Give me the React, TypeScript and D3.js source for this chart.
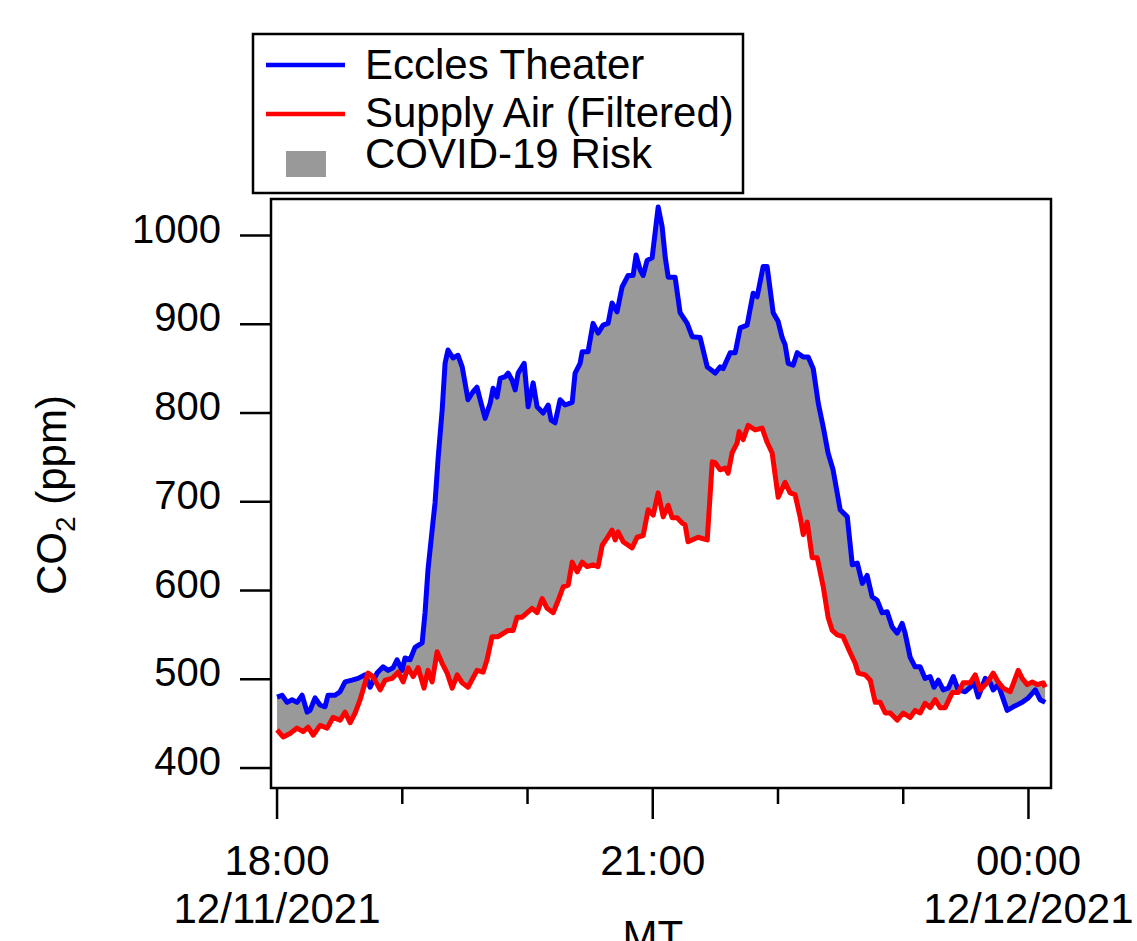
import React, { useEffect, useRef } from 'react'
import * as d3 from 'd3'

// minutes after 18:00 on 12/11/2021, CO2 in ppm
const ecclesMin = [0, 2.4, 4.8, 7.2, 9.6, 12.0, 14.4, 15.8, 18.2, 20.6, 23.0, 24.4, 27.8, 30.2, 32.6, 35.9, 38.8, 42.2, 44.6, 47.9, 50.8, 53.2, 55.6, 57.5, 59.9, 61.3, 63.7, 66.1, 69.5, 70.9, 72.3, 74.3, 75.7, 77.2, 79.1, 80.5, 81.9, 84.3, 86.7, 88.7, 91.5, 93.9, 95.8, 97.3, 99.7, 102.1, 103.5, 105.4, 106.9, 109.3, 110.7, 112.6, 114.1, 115.5, 118.4, 120.3, 122.7, 124.6, 127.5, 129.9, 131.3, 133.2, 135.6, 138.0, 141.4, 142.8, 145.2, 146.2, 149.0, 151.4, 153.8, 156.2, 158.6, 160.5, 162.9, 165.3, 168.2, 170.6, 172.0, 174.0, 175.4, 177.3, 179.7, 182.6, 184.5, 186.0, 187.4, 190.7, 193.1, 196.5, 198.9, 202.7, 206.1, 209.9, 212.3, 213.7, 217.1, 219.5, 221.9, 225.2, 228.1, 230.0, 232.9, 234.8, 237.7, 240.1, 242.0, 243.4, 244.9, 247.3, 249.2, 252.1, 254.5, 256.9, 259.3, 261.7, 264.0, 266.4, 269.8, 273.2, 275.6, 278.0, 280.4, 282.7, 285.1, 287.5, 289.9, 292.3, 294.7, 297.1, 299.5, 300.9, 303.3, 305.7, 308.1, 310.5, 312.9, 314.8, 316.8, 319.2, 321.6, 324.0, 326.3, 329.7, 332.1, 334.0, 335.9, 339.3, 341.7, 343.1, 345.5, 349.8, 352.7, 357.0, 359.9, 363.3, 365.6, 368.0]
const ecclesPpm = [480, 482, 474, 477, 474, 482, 463, 465, 479, 471, 469, 482, 482, 486, 497, 499, 501, 505, 491, 507, 514, 510, 513, 522, 510, 524, 522, 536, 541, 575, 623, 668, 699, 750, 803, 856, 871, 862, 865, 852, 815, 824, 829, 815, 794, 811, 828, 818, 839, 841, 845, 837, 826, 845, 856, 807, 834, 807, 800, 809, 792, 789, 815, 809, 812, 845, 856, 869, 869, 901, 890, 899, 901, 924, 914, 942, 955, 955, 978, 961, 955, 972, 975, 1032, 1010, 975, 953, 953, 913, 901, 886, 885, 852, 845, 852, 850, 868, 868, 896, 899, 935, 931, 965, 965, 913, 903, 885, 877, 856, 854, 868, 863, 863, 850, 811, 784, 755, 736, 691, 683, 629, 631, 608, 617, 593, 589, 575, 576, 559, 552, 563, 552, 525, 514, 514, 501, 503, 491, 499, 488, 490, 503, 488, 486, 491, 496, 480, 501, 496, 488, 494, 465, 469, 474, 479, 488, 477, 474]

const supplyMin = [0, 2.9, 6.2, 9.6, 12.5, 14.9, 17.3, 20.6, 24.0, 26.8, 30.2, 32.6, 35.0, 37.4, 39.8, 42.2, 43.6, 46.0, 49.4, 51.8, 55.1, 58.0, 60.4, 62.8, 65.2, 67.6, 70.4, 72.3, 74.3, 76.7, 79.1, 81.5, 83.9, 86.3, 88.7, 91.5, 95.8, 98.7, 100.6, 103.0, 105.9, 110.7, 113.1, 115.0, 117.4, 122.2, 124.6, 127.0, 129.4, 132.3, 134.7, 137.1, 139.5, 141.4, 143.8, 146.2, 148.6, 151.4, 153.8, 155.8, 158.1, 160.5, 162.0, 163.4, 165.8, 170.1, 172.5, 175.4, 177.8, 180.2, 182.6, 185.0, 187.4, 189.3, 191.7, 194.1, 195.5, 196.9, 201.7, 206.1, 208.5, 209.9, 212.3, 214.7, 216.1, 218.0, 220.4, 221.4, 223.3, 225.7, 229.1, 232.4, 234.8, 237.2, 240.1, 243.4, 245.8, 248.2, 250.6, 252.1, 254.0, 256.4, 258.8, 261.7, 264.0, 266.0, 268.4, 271.2, 274.6, 277.0, 278.4, 281.8, 284.2, 286.6, 289.0, 291.4, 293.8, 297.1, 300.0, 303.3, 305.7, 308.1, 310.5, 312.9, 315.3, 317.7, 320.1, 323.5, 326.3, 328.7, 332.1, 334.5, 336.9, 340.2, 343.1, 345.5, 347.9, 351.3, 355.1, 357.0, 359.4, 361.8, 364.2, 367.1, 368.0]
const supplyPpm = [443, 435, 439, 445, 441, 446, 437, 448, 445, 457, 454, 463, 451, 462, 477, 496, 507, 503, 488, 499, 501, 508, 497, 513, 503, 513, 490, 510, 497, 531, 518, 507, 490, 505, 496, 491, 510, 508, 522, 548, 548, 555, 555, 570, 570, 580, 575, 591, 580, 575, 589, 604, 606, 632, 621, 632, 627, 629, 627, 651, 659, 668, 657, 666, 655, 648, 660, 662, 691, 685, 710, 683, 696, 682, 682, 676, 674, 655, 660, 657, 745, 744, 736, 738, 732, 755, 766, 779, 770, 786, 781, 783, 767, 755, 705, 722, 710, 708, 683, 663, 677, 637, 637, 604, 570, 555, 550, 548, 530, 518, 507, 505, 499, 474, 474, 462, 462, 454, 462, 457, 465, 462, 473, 468, 477, 468, 468, 485, 485, 496, 496, 505, 488, 496, 507, 497, 490, 486, 510, 501, 494, 497, 494, 496, 491]

const yTicks = [400, 500, 600, 700, 800, 900, 1000]
const legendNames = ['Eccles Theater', 'Supply Air (Filtered)', 'COVID-19 Risk']

const t0 = new Date(2021, 11, 11, 18, 0).getTime()
const toDate = (m: number) => new Date(t0 + m * 60000)

export default function App() {
    const ref = useRef<SVGSVGElement | null>(null)
    const width = 1137
    const height = 941
    const font = 'Liberation Sans, Arial, sans-serif'

    function drawChart() {
        const svg = d3.select(ref.current)
        svg.selectAll('*').remove()

        const x = d3.scaleTime()
            .domain([toDate(-2.9), toDate(370.8)])
            .range([271, 1051])
        const y = d3.scaleLinear()
            .domain([377.5, 1040])
            .range([788, 200])

        const blue: [number, number][] = ecclesMin.map((m, i) => [x(toDate(m)), y(ecclesPpm[i])])
        const red: [number, number][] = supplyMin.map((m, i) => [x(toDate(m)), y(supplyPpm[i])])
        const line = d3.line()

        // risk band: eccles forward, supply back
        svg.append('path')
            .attr('d', line(blue.concat(red.slice().reverse())) + 'Z')
            .attr('fill', '#999999')
            .attr('stroke', 'none')

        svg.append('path')
            .attr('d', line(blue))
            .attr('fill', 'none')
            .attr('stroke', '#0000ff')
            .attr('stroke-width', 5)
            .attr('stroke-linejoin', 'round')
        svg.append('path')
            .attr('d', line(red))
            .attr('fill', 'none')
            .attr('stroke', '#ff0000')
            .attr('stroke-width', 5)
            .attr('stroke-linejoin', 'round')

        // frame
        svg.append('rect')
            .attr('x', 271).attr('y', 199)
            .attr('width', 780).attr('height', 589)
            .attr('fill', 'none')
            .attr('stroke', 'black')
            .attr('stroke-width', 2.5)

        // y axis
        const yg = svg.append('g')
        yTicks.forEach(v => {
            yg.append('line')
                .attr('x1', 240).attr('x2', 271)
                .attr('y1', y(v)).attr('y2', y(v))
                .attr('stroke', 'black').attr('stroke-width', 2.5)
            yg.append('text')
                .attr('x', 221).attr('y', y(v) + 7)
                .attr('text-anchor', 'end')
                .attr('font-family', font).attr('font-size', 40)
                .text(v)
        })

        // x axis
        const hours = d3.timeHour.range(toDate(0), toDate(371))
        const xg = svg.append('g')
        hours.forEach(h => {
            const major = h.getHours() % 3 === 0
            xg.append('line')
                .attr('x1', x(h)).attr('x2', x(h))
                .attr('y1', 788).attr('y2', major ? 819 : 804)
                .attr('stroke', 'black').attr('stroke-width', 2.5)
            if (major) {
                xg.append('text')
                    .attr('x', x(h)).attr('y', 875)
                    .attr('text-anchor', 'middle')
                    .attr('font-family', font).attr('font-size', 42)
                    .text(d3.timeFormat('%H:%M')(h))
                if (h.getHours() !== 21) {
                    xg.append('text')
                        .attr('x', x(h)).attr('y', 923)
                        .attr('text-anchor', 'middle')
                        .attr('font-family', font).attr('font-size', 42)
                        .text(d3.timeFormat('%m/%d/%Y')(h))
                }
            }
        })
        svg.append('text')
            .attr('x', x(toDate(180))).attr('y', 950)
            .attr('text-anchor', 'middle')
            .attr('font-family', font).attr('font-size', 42)
            .text('MT')

        // y label
        const yl = svg.append('text')
            .attr('transform', 'translate(66,495) rotate(-90)')
            .attr('text-anchor', 'middle')
            .attr('font-family', font).attr('font-size', 42)
        yl.append('tspan').text('CO')
        yl.append('tspan').attr('font-size', 28).attr('dy', 9).text('2')
        yl.append('tspan').attr('dy', -9).text(' (ppm)')

        // legend
        const lg = svg.append('g')
        lg.append('rect')
            .attr('x', 253).attr('y', 34)
            .attr('width', 490).attr('height', 159)
            .attr('fill', 'white')
            .attr('stroke', 'black').attr('stroke-width', 2.5)
        lg.append('line')
            .attr('x1', 266).attr('x2', 345).attr('y1', 65).attr('y2', 65)
            .attr('stroke', '#0000ff').attr('stroke-width', 4.5)
        lg.append('line')
            .attr('x1', 266).attr('x2', 345).attr('y1', 114).attr('y2', 114)
            .attr('stroke', '#ff0000').attr('stroke-width', 4.5)
        lg.append('rect')
            .attr('x', 286).attr('y', 151).attr('width', 40).attr('height', 26)
            .attr('fill', '#999999')
        const baselines = [79, 127, 168]
        legendNames.forEach((n, i) => {
            lg.append('text')
                .attr('x', 365).attr('y', baselines[i])
                .attr('font-family', font).attr('font-size', 42)
                .text(n)
        })
    }

    useEffect(() => {
        drawChart()
    }, [])

    return (
        <div>
            <svg ref={ref} width={width} height={height}
                style={{ position: 'absolute', left: 0, top: 0, background: 'white' }} />
        </div>
    )
}
